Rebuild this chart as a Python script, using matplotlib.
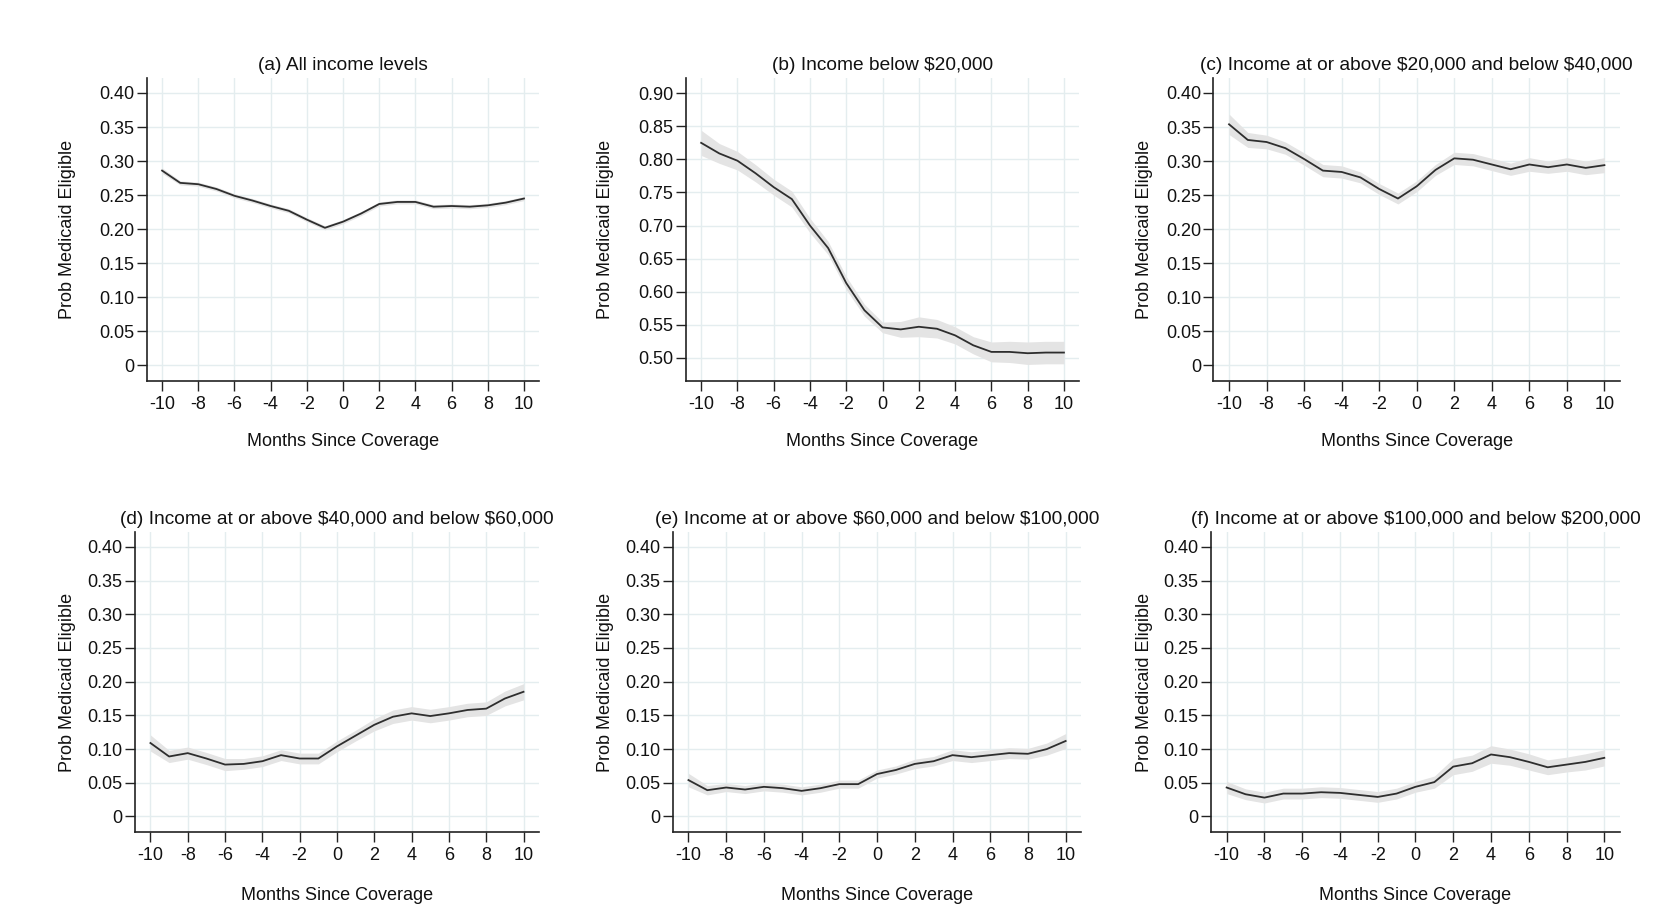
import matplotlib.pyplot as plt
import numpy as np

plt.rcParams['font.family'] = ['Liberation Sans', 'DejaVu Sans']
plt.rcParams['axes.unicode_minus'] = False

months = list(range(-10, 11))

titles = [
    '(a) All income levels',
    '(b) Income below \\$20,000',
    '(c) Income at or above \\$20,000 and below \\$40,000',
    '(d) Income at or above \\$40,000 and below \\$60,000',
    '(e) Income at or above \\$60,000 and below \\$100,000',
    '(f) Income at or above \\$100,000 and below \\$200,000',
]

# point estimates
prob_a = [0.286, 0.268, 0.266, 0.259, 0.249, 0.242, 0.234, 0.227, 0.214, 0.202, 0.211,
          0.223, 0.237, 0.240, 0.240, 0.233, 0.234, 0.233, 0.235, 0.239, 0.245]
prob_b = [0.825, 0.809, 0.798, 0.779, 0.758, 0.740, 0.700, 0.666, 0.613, 0.572, 0.546,
          0.543, 0.547, 0.544, 0.534, 0.519, 0.509, 0.509, 0.507, 0.508, 0.508]
prob_c = [0.354, 0.331, 0.328, 0.319, 0.303, 0.286, 0.284, 0.276, 0.259, 0.245, 0.263,
          0.287, 0.304, 0.302, 0.295, 0.288, 0.295, 0.291, 0.295, 0.290, 0.294]
prob_d = [0.109, 0.089, 0.094, 0.086, 0.077, 0.078, 0.082, 0.091, 0.086, 0.086, 0.104,
          0.120, 0.136, 0.148, 0.153, 0.149, 0.153, 0.158, 0.160, 0.175, 0.185]
prob_e = [0.054, 0.039, 0.043, 0.040, 0.044, 0.042, 0.038, 0.042, 0.048, 0.048, 0.063,
          0.069, 0.078, 0.082, 0.091, 0.088, 0.091, 0.094, 0.093, 0.100, 0.112]
prob_f = [0.043, 0.033, 0.028, 0.034, 0.034, 0.036, 0.035, 0.032, 0.029, 0.034, 0.044,
          0.051, 0.074, 0.079, 0.092, 0.088, 0.081, 0.073, 0.077, 0.081, 0.087]

# half widths of the confidence bands
ci_a = [0.004, 0.003, 0.003, 0.003, 0.003, 0.003, 0.003, 0.003, 0.003, 0.003, 0.003,
        0.003, 0.003, 0.003, 0.003, 0.003, 0.003, 0.003, 0.003, 0.003, 0.003]
ci_b = [0.019, 0.015, 0.014, 0.013, 0.012, 0.012, 0.011, 0.010, 0.010, 0.009, 0.008,
        0.012, 0.015, 0.014, 0.013, 0.013, 0.015, 0.016, 0.017, 0.017, 0.017]
ci_c = [0.015, 0.011, 0.010, 0.009, 0.009, 0.009, 0.009, 0.008, 0.008, 0.008, 0.008,
        0.008, 0.009, 0.009, 0.009, 0.009, 0.010, 0.009, 0.010, 0.010, 0.011]
ci_d = [0.012, 0.009, 0.009, 0.009, 0.009, 0.008, 0.008, 0.008, 0.008, 0.008, 0.008,
        0.008, 0.009, 0.010, 0.010, 0.010, 0.010, 0.010, 0.010, 0.011, 0.012]
ci_e = [0.010, 0.007, 0.006, 0.006, 0.006, 0.006, 0.006, 0.006, 0.006, 0.006, 0.006,
        0.006, 0.007, 0.007, 0.008, 0.008, 0.008, 0.008, 0.008, 0.009, 0.011]
ci_f = [0.009, 0.008, 0.008, 0.008, 0.008, 0.008, 0.008, 0.008, 0.008, 0.008, 0.008,
        0.009, 0.012, 0.012, 0.013, 0.012, 0.012, 0.011, 0.011, 0.012, 0.012]

series = [prob_a, prob_b, prob_c, prob_d, prob_e, prob_f]
bands = [ci_a, ci_b, ci_c, ci_d, ci_e, ci_f]

yticks_low = [0, 0.05, 0.10, 0.15, 0.20, 0.25, 0.30, 0.35, 0.40]
yticks_b = [0.50, 0.55, 0.60, 0.65, 0.70, 0.75, 0.80, 0.85, 0.90]

# axes rectangles [left, bottom, width, height] in figure fractions
positions = [
    [0.0886, 0.5872, 0.2361, 0.3283],
    [0.4133, 0.5872, 0.2367, 0.3283],
    [0.7310, 0.5872, 0.2449, 0.3283],
    [0.0813, 0.0986, 0.2434, 0.3250],
    [0.4053, 0.0986, 0.2461, 0.3250],
    [0.7295, 0.0986, 0.2464, 0.3250],
]
# y-label right edge per column, figure fraction
ylabel_x = [0.0458, 0.3699, 0.6943]

fig = plt.figure(figsize=(16.6, 9.23), dpi=100)
fig.patch.set_facecolor('white')

for i in range(6):
    pos = positions[i]
    ax = fig.add_axes(pos)
    y = np.array(series[i])
    ci = np.array(bands[i])
    ax.fill_between(months, y - ci, y + ci, color='#e4e4e4', lw=0, zorder=2)
    ax.plot(months, y, color='#2e2e2e', lw=1.3, zorder=3)

    if i == 1:
        ax.set_yticks(yticks_b)
        ax.set_yticklabels([f'{t:.2f}' for t in yticks_b])
        ax.set_ylim(0.465, 0.923)
    else:
        ax.set_yticks(yticks_low)
        ax.set_yticklabels(['0'] + [f'{t:.2f}' for t in yticks_low[1:]])
        ax.set_ylim(-0.023, 0.422)
    ax.set_xticks(range(-10, 11, 2))
    ax.set_xlim(-10.83, 10.83)

    ax.grid(True, color='#e4edef', lw=1.0, zorder=0)
    for side in ['top', 'right']:
        ax.spines[side].set_visible(False)
    for side in ['left', 'bottom']:
        ax.spines[side].set_color('#222222')
        ax.spines[side].set_linewidth(1.2)
    ax.tick_params(axis='both', direction='out', length=7, width=1.0,
                   color='#222222', labelsize=13, labelcolor='#111111')
    ax.tick_params(axis='y', pad=2)
    ax.tick_params(axis='x', pad=4)

    ax.set_title(titles[i], fontsize=13.8, color='#111111', pad=6)
    ax.set_xlabel('Months Since Coverage', fontsize=13, color='#111111',
                  labelpad=14.5 if i < 3 else 16.5)
    ax.set_ylabel('Prob Medicaid Eligible', fontsize=13, color='#111111')
    ax.yaxis.set_label_coords(ylabel_x[i % 3], pos[1] + pos[3] / 2,
                              transform=fig.transFigure)

fig.savefig('out.png', dpi=100)
